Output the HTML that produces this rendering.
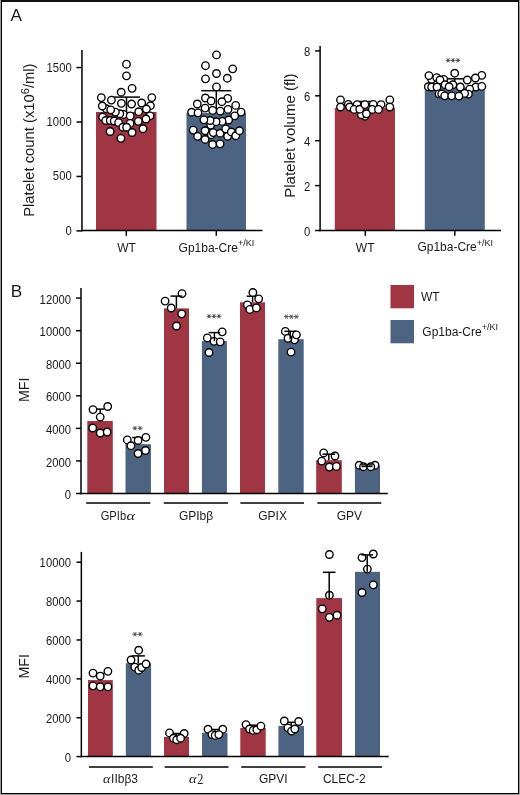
<!DOCTYPE html>
<html><head><meta charset="utf-8"><style>
html,body{margin:0;padding:0;background:#9a9a9a;}
#fig{position:absolute;left:1px;top:0;width:516px;height:791px;border:1px solid #000;border-top:2px solid #111;background:#fff;}
svg{position:absolute;left:0;top:0;will-change:transform;}
text{font-family:"Liberation Sans",sans-serif;fill:#1a1a1a;}
circle{fill:#fff;stroke:#000;stroke-width:1.35;}
</style></head><body>
<div id="fig"></div>
<svg width="520" height="795" viewBox="0 0 520 795">
<rect x="96" y="112" width="60.5" height="118.5" fill="#a03543"/>
<rect x="186.5" y="113" width="59.5" height="117.5" fill="#4d6382"/>
<line x1="126.5" y1="97.1" x2="126.5" y2="112" stroke="#000" stroke-width="1.5"/>
<line x1="113.0" y1="97.1" x2="140.0" y2="97.1" stroke="#000" stroke-width="1.5"/>
<line x1="216.3" y1="90.7" x2="216.3" y2="113" stroke="#000" stroke-width="1.5"/>
<line x1="201.3" y1="90.7" x2="231.3" y2="90.7" stroke="#000" stroke-width="1.5"/>
<circle cx="126.5" cy="64.2" r="3.75"/>
<circle cx="126.5" cy="75.8" r="3.75"/>
<circle cx="132.1" cy="88.3" r="3.75"/>
<circle cx="121.2" cy="92.2" r="3.75"/>
<circle cx="101.3" cy="97.6" r="3.75"/>
<circle cx="111.4" cy="100.1" r="3.75"/>
<circle cx="121.4" cy="103.3" r="3.75"/>
<circle cx="131.6" cy="104.0" r="3.75"/>
<circle cx="141.7" cy="103.0" r="3.75"/>
<circle cx="151.8" cy="97.6" r="3.75"/>
<circle cx="106.3" cy="108.7" r="3.75"/>
<circle cx="102.3" cy="106.0" r="3.75"/>
<circle cx="123.5" cy="114.4" r="3.75"/>
<circle cx="119.8" cy="113.7" r="3.75"/>
<circle cx="115.4" cy="112.1" r="3.75"/>
<circle cx="110.7" cy="109.8" r="3.75"/>
<circle cx="150.4" cy="105.7" r="3.75"/>
<circle cx="146.4" cy="109.0" r="3.75"/>
<circle cx="138.7" cy="111.7" r="3.75"/>
<circle cx="130.2" cy="115.9" r="3.75"/>
<circle cx="150.1" cy="115.8" r="3.75"/>
<circle cx="146.0" cy="119.0" r="3.75"/>
<circle cx="138.3" cy="121.3" r="3.75"/>
<circle cx="130.1" cy="123.4" r="3.75"/>
<circle cx="102.6" cy="117.0" r="3.75"/>
<circle cx="105.7" cy="120.5" r="3.75"/>
<circle cx="110.2" cy="120.5" r="3.75"/>
<circle cx="114.2" cy="121.0" r="3.75"/>
<circle cx="118.6" cy="122.6" r="3.75"/>
<circle cx="122.8" cy="127.2" r="3.75"/>
<circle cx="126.6" cy="127.2" r="3.75"/>
<circle cx="110.1" cy="131.5" r="3.75"/>
<circle cx="132.1" cy="132.5" r="3.75"/>
<circle cx="143.0" cy="128.7" r="3.75"/>
<circle cx="120.9" cy="138.3" r="3.75"/>
<circle cx="216.5" cy="54.9" r="3.75"/>
<circle cx="205.5" cy="65.7" r="3.75"/>
<circle cx="232.7" cy="68.8" r="3.75"/>
<circle cx="216.5" cy="73.5" r="3.75"/>
<circle cx="205.5" cy="78.8" r="3.75"/>
<circle cx="227.3" cy="78.2" r="3.75"/>
<circle cx="216.5" cy="86.9" r="3.75"/>
<circle cx="205.4" cy="98.0" r="3.75"/>
<circle cx="211.1" cy="101.0" r="3.75"/>
<circle cx="197.3" cy="104.0" r="3.75"/>
<circle cx="205.1" cy="108.1" r="3.75"/>
<circle cx="212.7" cy="110.4" r="3.75"/>
<circle cx="191.6" cy="112.2" r="3.75"/>
<circle cx="198.0" cy="112.8" r="3.75"/>
<circle cx="227.7" cy="98.3" r="3.75"/>
<circle cx="221.9" cy="101.7" r="3.75"/>
<circle cx="235.7" cy="105.4" r="3.75"/>
<circle cx="228.0" cy="109.4" r="3.75"/>
<circle cx="220.3" cy="111.1" r="3.75"/>
<circle cx="241.1" cy="112.1" r="3.75"/>
<circle cx="234.7" cy="115.8" r="3.75"/>
<circle cx="210.7" cy="125.1" r="3.75"/>
<circle cx="228.6" cy="120.0" r="3.75"/>
<circle cx="222.1" cy="121.4" r="3.75"/>
<circle cx="216.1" cy="121.7" r="3.75"/>
<circle cx="210.1" cy="120.5" r="3.75"/>
<circle cx="203.9" cy="119.8" r="3.75"/>
<circle cx="193.2" cy="130.1" r="3.75"/>
<circle cx="197.6" cy="136.3" r="3.75"/>
<circle cx="205.1" cy="130.7" r="3.75"/>
<circle cx="205.1" cy="139.45" r="3.75"/>
<circle cx="211.3" cy="134.7" r="3.75"/>
<circle cx="213.2" cy="132.6" r="3.75"/>
<circle cx="220.1" cy="133.2" r="3.75"/>
<circle cx="225.7" cy="128.8" r="3.75"/>
<circle cx="227.6" cy="136.3" r="3.75"/>
<circle cx="231.3" cy="131.95" r="3.75"/>
<circle cx="235.7" cy="135.7" r="3.75"/>
<circle cx="239.45" cy="130.7" r="3.75"/>
<circle cx="212.6" cy="144.45" r="3.75"/>
<circle cx="220.1" cy="143.8" r="3.75"/>
<line x1="81.95" y1="50" x2="81.95" y2="231.2" stroke="#000" stroke-width="1.5"/>
<line x1="81.2" y1="230.5" x2="262.5" y2="230.5" stroke="#000" stroke-width="1.5"/>
<line x1="76.5" y1="230.9" x2="81.95" y2="230.9" stroke="#000" stroke-width="1.5"/>
<text transform="translate(71.7,234.9) scale(0.925,1)" font-size="12.2" text-anchor="end">0</text>
<line x1="76.5" y1="176.45" x2="81.95" y2="176.45" stroke="#000" stroke-width="1.5"/>
<text transform="translate(71.7,180.45) scale(0.925,1)" font-size="12.2" text-anchor="end">500</text>
<line x1="76.5" y1="122.0" x2="81.95" y2="122.0" stroke="#000" stroke-width="1.5"/>
<text transform="translate(71.7,126.0) scale(0.925,1)" font-size="12.2" text-anchor="end">1000</text>
<line x1="76.5" y1="67.55" x2="81.95" y2="67.55" stroke="#000" stroke-width="1.5"/>
<text transform="translate(71.7,71.55) scale(0.925,1)" font-size="12.2" text-anchor="end">1500</text>
<line x1="126.3" y1="230.5" x2="126.3" y2="235.8" stroke="#000" stroke-width="1.5"/>
<line x1="216.3" y1="230.5" x2="216.3" y2="235.8" stroke="#000" stroke-width="1.5"/>
<text x="126.5" y="251.5" font-size="12" text-anchor="middle" >WT</text>
<text x="178.6" y="251.5" font-size="12">Gp1ba-Cre<tspan font-size="9" dy="-5.4">+/KI</tspan></text>
<text transform="translate(34.1,216.8) rotate(-90)" font-size="14.8">Platelet count (x10<tspan font-size="11" dy="-5">6</tspan><tspan dy="5">/ml)</tspan></text>
<rect x="334.8" y="108" width="60.2" height="122.5" fill="#a03543"/>
<rect x="424.8" y="87.5" width="60.0" height="143.0" fill="#4d6382"/>
<line x1="365.3" y1="101.5" x2="365.3" y2="108" stroke="#000" stroke-width="1.5"/>
<line x1="357.3" y1="101.5" x2="373.3" y2="101.5" stroke="#000" stroke-width="1.5"/>
<line x1="454.7" y1="78.8" x2="454.7" y2="87.5" stroke="#000" stroke-width="1.5"/>
<line x1="446.09999999999997" y1="78.8" x2="463.3" y2="78.8" stroke="#000" stroke-width="1.5"/>
<circle cx="365.0" cy="116.2" r="3.75"/>
<circle cx="361.4" cy="114.7" r="3.75"/>
<circle cx="340.5" cy="99.9" r="3.75"/>
<circle cx="340.5" cy="107.0" r="3.75"/>
<circle cx="348.3" cy="104.3" r="3.75"/>
<circle cx="349.7" cy="107.0" r="3.75"/>
<circle cx="357.1" cy="104.6" r="3.75"/>
<circle cx="354.1" cy="109.4" r="3.75"/>
<circle cx="359.7" cy="109.2" r="3.75"/>
<circle cx="364.9" cy="104.6" r="3.75"/>
<circle cx="373.3" cy="104.3" r="3.75"/>
<circle cx="381.1" cy="104.6" r="3.75"/>
<circle cx="389.8" cy="99.9" r="3.75"/>
<circle cx="389.8" cy="107.0" r="3.75"/>
<circle cx="372.3" cy="109.4" r="3.75"/>
<circle cx="378.5" cy="109.4" r="3.75"/>
<circle cx="366.4" cy="113.8" r="3.75"/>
<circle cx="452.9" cy="84.7" r="3.75"/>
<circle cx="443.7" cy="79.3" r="3.75"/>
<circle cx="431.6" cy="79.3" r="3.75"/>
<circle cx="428.9" cy="75.6" r="3.75"/>
<circle cx="436.7" cy="77.6" r="3.75"/>
<circle cx="440.0" cy="80.0" r="3.75"/>
<circle cx="454.7" cy="73.2" r="3.75"/>
<circle cx="428.3" cy="86.7" r="3.75"/>
<circle cx="431.6" cy="87.0" r="3.75"/>
<circle cx="437.0" cy="87.0" r="3.75"/>
<circle cx="445.1" cy="84.7" r="3.75"/>
<circle cx="449.1" cy="86.7" r="3.75"/>
<circle cx="481.8" cy="75.3" r="3.75"/>
<circle cx="475.4" cy="78.0" r="3.75"/>
<circle cx="467.3" cy="80.0" r="3.75"/>
<circle cx="460.3" cy="87.0" r="3.75"/>
<circle cx="475.8" cy="87.0" r="3.75"/>
<circle cx="481.8" cy="86.4" r="3.75"/>
<circle cx="469.7" cy="89.1" r="3.75"/>
<circle cx="468.4" cy="94.1" r="3.75"/>
<circle cx="464.6" cy="93.4" r="3.75"/>
<circle cx="439.0" cy="93.8" r="3.75"/>
<circle cx="441.7" cy="93.8" r="3.75"/>
<circle cx="444.7" cy="95.8" r="3.75"/>
<circle cx="451.7" cy="95.8" r="3.75"/>
<circle cx="458.9" cy="96.1" r="3.75"/>
<line x1="320.1" y1="46" x2="320.1" y2="231.2" stroke="#000" stroke-width="1.5"/>
<line x1="319.35" y1="230.5" x2="501" y2="230.5" stroke="#000" stroke-width="1.5"/>
<line x1="315.1" y1="230.5" x2="320.1" y2="230.5" stroke="#000" stroke-width="1.5"/>
<text transform="translate(310.3,235.8) scale(0.925,1)" font-size="12.2" text-anchor="end">0</text>
<line x1="315.1" y1="185.6" x2="320.1" y2="185.6" stroke="#000" stroke-width="1.5"/>
<text transform="translate(310.3,190.9) scale(0.925,1)" font-size="12.2" text-anchor="end">2</text>
<line x1="315.1" y1="140.7" x2="320.1" y2="140.7" stroke="#000" stroke-width="1.5"/>
<text transform="translate(310.3,146.0) scale(0.925,1)" font-size="12.2" text-anchor="end">4</text>
<line x1="315.1" y1="95.8" x2="320.1" y2="95.8" stroke="#000" stroke-width="1.5"/>
<text transform="translate(310.3,101.1) scale(0.925,1)" font-size="12.2" text-anchor="end">6</text>
<line x1="315.1" y1="50.9" x2="320.1" y2="50.9" stroke="#000" stroke-width="1.5"/>
<text transform="translate(310.3,56.2) scale(0.925,1)" font-size="12.2" text-anchor="end">8</text>
<line x1="365.3" y1="230.5" x2="365.3" y2="235.8" stroke="#000" stroke-width="1.5"/>
<line x1="454.8" y1="230.5" x2="454.8" y2="235.8" stroke="#000" stroke-width="1.5"/>
<text x="365.2" y="251.5" font-size="12" text-anchor="middle" >WT</text>
<text x="417.4" y="251.3" font-size="12">Gp1ba-Cre<tspan font-size="9" dy="-5.4">+/KI</tspan></text>
<text transform="translate(294.9,197.8) rotate(-90)" font-size="15">Platelet volume (fl)</text>
<line x1="445.7" y1="60.4" x2="450.5" y2="60.4" stroke="#484848" stroke-width="0.95"/>
<line x1="446.9" y1="58.32" x2="449.3" y2="62.48" stroke="#484848" stroke-width="0.95"/>
<line x1="449.3" y1="58.32" x2="446.9" y2="62.48" stroke="#484848" stroke-width="0.95"/>
<line x1="450.6" y1="60.4" x2="455.4" y2="60.4" stroke="#484848" stroke-width="0.95"/>
<line x1="451.8" y1="58.32" x2="454.2" y2="62.48" stroke="#484848" stroke-width="0.95"/>
<line x1="454.2" y1="58.32" x2="451.8" y2="62.48" stroke="#484848" stroke-width="0.95"/>
<line x1="455.5" y1="60.4" x2="460.3" y2="60.4" stroke="#484848" stroke-width="0.95"/>
<line x1="456.7" y1="58.32" x2="459.1" y2="62.48" stroke="#484848" stroke-width="0.95"/>
<line x1="459.1" y1="58.32" x2="456.7" y2="62.48" stroke="#484848" stroke-width="0.95"/>
<rect x="87.3" y="421" width="25.5" height="72.5" fill="#a03543"/>
<rect x="125.5" y="444.2" width="25.4" height="49.3" fill="#4d6382"/>
<rect x="164" y="308.4" width="25" height="185.1" fill="#a03543"/>
<rect x="201.9" y="341.1" width="25.0" height="152.4" fill="#4d6382"/>
<rect x="240" y="302.3" width="25" height="191.2" fill="#a03543"/>
<rect x="278.3" y="339.2" width="25.4" height="154.3" fill="#4d6382"/>
<rect x="316.2" y="460.2" width="25.6" height="33.3" fill="#a03543"/>
<rect x="354.9" y="466.2" width="25.1" height="27.3" fill="#4d6382"/>
<line x1="100.2" y1="409.1" x2="100.2" y2="421" stroke="#000" stroke-width="1.5"/>
<line x1="96.4" y1="409.1" x2="104.0" y2="409.1" stroke="#000" stroke-width="1.5"/>
<line x1="138.2" y1="437.5" x2="138.2" y2="444.2" stroke="#000" stroke-width="1.5"/>
<line x1="132.2" y1="437.5" x2="144.2" y2="437.5" stroke="#000" stroke-width="1.5"/>
<line x1="252.6" y1="296.2" x2="252.6" y2="302.3" stroke="#000" stroke-width="1.5"/>
<line x1="246.6" y1="296.2" x2="258.6" y2="296.2" stroke="#000" stroke-width="1.5"/>
<circle cx="93.0" cy="409.6" r="3.75"/>
<circle cx="107.7" cy="406.5" r="3.75"/>
<circle cx="100.2" cy="417.1" r="3.75"/>
<circle cx="92.7" cy="428.0" r="3.75"/>
<circle cx="100.2" cy="433.0" r="3.75"/>
<circle cx="107.2" cy="432.0" r="3.75"/>
<circle cx="127.3" cy="439.9" r="3.75"/>
<circle cx="138.1" cy="440.5" r="3.75"/>
<circle cx="145.9" cy="437.3" r="3.75"/>
<circle cx="130.9" cy="445.7" r="3.75"/>
<circle cx="138.1" cy="453.5" r="3.75"/>
<circle cx="145.5" cy="450.5" r="3.75"/>
<circle cx="182.0" cy="293.6" r="3.75"/>
<circle cx="165.1" cy="301.1" r="3.75"/>
<circle cx="171.2" cy="308.0" r="3.75"/>
<circle cx="181.7" cy="313.8" r="3.75"/>
<circle cx="176.5" cy="326.0" r="3.75"/>
<circle cx="222.2" cy="331.8" r="3.75"/>
<circle cx="207.3" cy="337.9" r="3.75"/>
<circle cx="214.0" cy="341.3" r="3.75"/>
<circle cx="220.2" cy="341.8" r="3.75"/>
<circle cx="209.0" cy="352.5" r="3.75"/>
<circle cx="252.9" cy="292.5" r="3.75"/>
<circle cx="258.7" cy="298.8" r="3.75"/>
<circle cx="247.4" cy="304.8" r="3.75"/>
<circle cx="249.8" cy="309.4" r="3.75"/>
<circle cx="256.4" cy="307.9" r="3.75"/>
<circle cx="285.3" cy="331.4" r="3.75"/>
<circle cx="294.5" cy="339.8" r="3.75"/>
<circle cx="288.0" cy="338.3" r="3.75"/>
<circle cx="296.4" cy="334.8" r="3.75"/>
<circle cx="291.0" cy="352.1" r="3.75"/>
<circle cx="323.7" cy="452.9" r="3.75"/>
<circle cx="335.0" cy="456.0" r="3.75"/>
<circle cx="321.7" cy="461.1" r="3.75"/>
<circle cx="329.4" cy="467.0" r="3.75"/>
<circle cx="336.4" cy="466.4" r="3.75"/>
<circle cx="359.2" cy="465.2" r="3.75"/>
<circle cx="375.1" cy="465.2" r="3.75"/>
<circle cx="363.5" cy="466.7" r="3.75"/>
<circle cx="370.75" cy="466.7" r="3.75"/>
<line x1="176.4" y1="296.1" x2="176.4" y2="308.4" stroke="#000" stroke-width="1.5"/>
<line x1="170.5" y1="296.1" x2="182.3" y2="296.1" stroke="#000" stroke-width="1.5"/>
<line x1="214.4" y1="332.6" x2="214.4" y2="341.1" stroke="#000" stroke-width="1.5"/>
<line x1="208.6" y1="332.6" x2="220.20000000000002" y2="332.6" stroke="#000" stroke-width="1.5"/>
<line x1="290.2" y1="331.3" x2="290.2" y2="339.2" stroke="#000" stroke-width="1.5"/>
<line x1="284.4" y1="331.3" x2="296.0" y2="331.3" stroke="#000" stroke-width="1.5"/>
<line x1="328.8" y1="454.2" x2="328.8" y2="460.2" stroke="#000" stroke-width="1.5"/>
<line x1="322.5" y1="454.2" x2="335.1" y2="454.2" stroke="#000" stroke-width="1.5"/>
<line x1="367.0" y1="464.9" x2="367.0" y2="466.6" stroke="#000" stroke-width="1.5"/>
<line x1="361.2" y1="464.9" x2="372.8" y2="464.9" stroke="#000" stroke-width="1.5"/>
<line x1="361.5" y1="466.6" x2="372.5" y2="466.6" stroke="#000" stroke-width="1.2"/>
<line x1="81.0" y1="288" x2="81.0" y2="494.2" stroke="#000" stroke-width="1.5"/>
<line x1="80.25" y1="493.5" x2="387.8" y2="493.5" stroke="#000" stroke-width="1.5"/>
<line x1="76.1" y1="493.5" x2="81.0" y2="493.5" stroke="#000" stroke-width="1.5"/>
<text transform="translate(71.0,499.15) scale(0.925,1)" font-size="12.2" text-anchor="end">0</text>
<line x1="76.1" y1="460.93" x2="81.0" y2="460.93" stroke="#000" stroke-width="1.5"/>
<text transform="translate(71.0,466.58) scale(0.925,1)" font-size="12.2" text-anchor="end">2000</text>
<line x1="76.1" y1="428.37" x2="81.0" y2="428.37" stroke="#000" stroke-width="1.5"/>
<text transform="translate(71.0,434.02) scale(0.925,1)" font-size="12.2" text-anchor="end">4000</text>
<line x1="76.1" y1="395.8" x2="81.0" y2="395.8" stroke="#000" stroke-width="1.5"/>
<text transform="translate(71.0,401.45) scale(0.925,1)" font-size="12.2" text-anchor="end">6000</text>
<line x1="76.1" y1="363.24" x2="81.0" y2="363.24" stroke="#000" stroke-width="1.5"/>
<text transform="translate(71.0,368.89) scale(0.925,1)" font-size="12.2" text-anchor="end">8000</text>
<line x1="76.1" y1="330.67" x2="81.0" y2="330.67" stroke="#000" stroke-width="1.5"/>
<text transform="translate(71.0,336.32) scale(0.925,1)" font-size="12.2" text-anchor="end">10000</text>
<line x1="76.1" y1="298.1" x2="81.0" y2="298.1" stroke="#000" stroke-width="1.5"/>
<text transform="translate(71.0,303.75) scale(0.925,1)" font-size="12.2" text-anchor="end">12000</text>
<line x1="86.2" y1="503" x2="150.3" y2="503" stroke="#000" stroke-width="1.5"/>
<line x1="163.8" y1="503" x2="227.9" y2="503" stroke="#000" stroke-width="1.5"/>
<line x1="240.4" y1="503" x2="304" y2="503" stroke="#000" stroke-width="1.5"/>
<line x1="317.4" y1="503" x2="381.3" y2="503" stroke="#000" stroke-width="1.5"/>
<text transform="translate(100.7,519.8) scale(0.93,1)" font-size="12">GPIb</text>
<text transform="translate(126.4,519.8) scale(1.2,1)" style="font-family:&quot;Liberation Serif&quot;;font-style:italic" font-size="13.5">&#945;</text>
<text x="196" y="519.8" font-size="12" text-anchor="middle" >GPIb&#946;</text>
<text x="272.6" y="519.8" font-size="12" text-anchor="middle" >GPIX</text>
<text x="349.4" y="519.8" font-size="12" text-anchor="middle" >GPV</text>
<text transform="translate(28.8,402) rotate(-90)" font-size="14.2">MFI</text>
<line x1="132.5" y1="428.2" x2="137.3" y2="428.2" stroke="#484848" stroke-width="0.95"/>
<line x1="133.7" y1="426.12" x2="136.1" y2="430.28" stroke="#484848" stroke-width="0.95"/>
<line x1="136.1" y1="426.12" x2="133.7" y2="430.28" stroke="#484848" stroke-width="0.95"/>
<line x1="137.7" y1="428.2" x2="142.5" y2="428.2" stroke="#484848" stroke-width="0.95"/>
<line x1="138.9" y1="426.12" x2="141.3" y2="430.28" stroke="#484848" stroke-width="0.95"/>
<line x1="141.3" y1="426.12" x2="138.9" y2="430.28" stroke="#484848" stroke-width="0.95"/>
<line x1="206.6" y1="316.3" x2="211.4" y2="316.3" stroke="#484848" stroke-width="0.95"/>
<line x1="207.8" y1="314.22" x2="210.2" y2="318.38" stroke="#484848" stroke-width="0.95"/>
<line x1="210.2" y1="314.22" x2="207.8" y2="318.38" stroke="#484848" stroke-width="0.95"/>
<line x1="211.6" y1="316.3" x2="216.4" y2="316.3" stroke="#484848" stroke-width="0.95"/>
<line x1="212.8" y1="314.22" x2="215.2" y2="318.38" stroke="#484848" stroke-width="0.95"/>
<line x1="215.2" y1="314.22" x2="212.8" y2="318.38" stroke="#484848" stroke-width="0.95"/>
<line x1="216.6" y1="316.3" x2="221.4" y2="316.3" stroke="#484848" stroke-width="0.95"/>
<line x1="217.8" y1="314.22" x2="220.2" y2="318.38" stroke="#484848" stroke-width="0.95"/>
<line x1="220.2" y1="314.22" x2="217.8" y2="318.38" stroke="#484848" stroke-width="0.95"/>
<line x1="284.0" y1="316.7" x2="288.8" y2="316.7" stroke="#484848" stroke-width="0.95"/>
<line x1="285.2" y1="314.62" x2="287.6" y2="318.78" stroke="#484848" stroke-width="0.95"/>
<line x1="287.6" y1="314.62" x2="285.2" y2="318.78" stroke="#484848" stroke-width="0.95"/>
<line x1="289.0" y1="316.7" x2="293.8" y2="316.7" stroke="#484848" stroke-width="0.95"/>
<line x1="290.2" y1="314.62" x2="292.6" y2="318.78" stroke="#484848" stroke-width="0.95"/>
<line x1="292.6" y1="314.62" x2="290.2" y2="318.78" stroke="#484848" stroke-width="0.95"/>
<line x1="294.0" y1="316.7" x2="298.8" y2="316.7" stroke="#484848" stroke-width="0.95"/>
<line x1="295.2" y1="314.62" x2="297.6" y2="318.78" stroke="#484848" stroke-width="0.95"/>
<line x1="297.6" y1="314.62" x2="295.2" y2="318.78" stroke="#484848" stroke-width="0.95"/>
<rect x="390.5" y="285" width="23.5" height="23.3" fill="#a03543"/>
<rect x="390.5" y="320" width="23.5" height="23.3" fill="#4d6382"/>
<text x="421" y="301.4" font-size="12">WT</text>
<text x="422.3" y="335.8" font-size="12">Gp1ba-Cre<tspan font-size="9" dy="-5.4">+/KI</tspan></text>
<rect x="88" y="680.1" width="24.8" height="76.5" fill="#a03543"/>
<rect x="125.8" y="663.2" width="25.3" height="93.4" fill="#4d6382"/>
<rect x="164" y="737" width="25" height="19.6" fill="#a03543"/>
<rect x="202" y="732.7" width="25.5" height="23.9" fill="#4d6382"/>
<rect x="240.3" y="728" width="25.4" height="28.6" fill="#a03543"/>
<rect x="278.4" y="725.9" width="25.6" height="30.7" fill="#4d6382"/>
<rect x="316.3" y="598.1" width="25.7" height="158.5" fill="#a03543"/>
<rect x="355" y="571.8" width="25" height="184.8" fill="#4d6382"/>
<line x1="100.3" y1="673.5" x2="100.3" y2="680.1" stroke="#000" stroke-width="1.5"/>
<line x1="96.3" y1="673.5" x2="104.3" y2="673.5" stroke="#000" stroke-width="1.5"/>
<line x1="138.3" y1="655.9" x2="138.3" y2="663.2" stroke="#000" stroke-width="1.5"/>
<line x1="131.70000000000002" y1="655.9" x2="144.9" y2="655.9" stroke="#000" stroke-width="1.5"/>
<line x1="176.5" y1="733.5" x2="176.5" y2="737" stroke="#000" stroke-width="1.5"/>
<line x1="171.5" y1="733.5" x2="181.5" y2="733.5" stroke="#000" stroke-width="1.5"/>
<line x1="215" y1="729.5" x2="215" y2="732.7" stroke="#000" stroke-width="1.5"/>
<line x1="209" y1="729.5" x2="221" y2="729.5" stroke="#000" stroke-width="1.5"/>
<line x1="253" y1="725.2" x2="253" y2="728" stroke="#000" stroke-width="1.5"/>
<line x1="248" y1="725.2" x2="258" y2="725.2" stroke="#000" stroke-width="1.5"/>
<line x1="291.3" y1="722.3" x2="291.3" y2="725.9" stroke="#000" stroke-width="1.5"/>
<line x1="285.3" y1="722.3" x2="297.3" y2="722.3" stroke="#000" stroke-width="1.5"/>
<circle cx="93.0" cy="673.1" r="3.75"/>
<circle cx="100.2" cy="676.1" r="3.75"/>
<circle cx="107.9" cy="671.3" r="3.75"/>
<circle cx="93.0" cy="685.8" r="3.75"/>
<circle cx="100.2" cy="686.8" r="3.75"/>
<circle cx="107.9" cy="686.8" r="3.75"/>
<circle cx="138.7" cy="650.2" r="3.75"/>
<circle cx="131.0" cy="660.0" r="3.75"/>
<circle cx="134.8" cy="667.1" r="3.75"/>
<circle cx="138.7" cy="670.2" r="3.75"/>
<circle cx="141.7" cy="667.5" r="3.75"/>
<circle cx="146.0" cy="664.0" r="3.75"/>
<circle cx="169.5" cy="732.9" r="3.75"/>
<circle cx="184.2" cy="733.5" r="3.75"/>
<circle cx="173.4" cy="738.2" r="3.75"/>
<circle cx="176.7" cy="739.7" r="3.75"/>
<circle cx="180.6" cy="738.2" r="3.75"/>
<circle cx="208.0" cy="729.2" r="3.75"/>
<circle cx="222.8" cy="729.2" r="3.75"/>
<circle cx="211.9" cy="734.6" r="3.75"/>
<circle cx="215.2" cy="735.4" r="3.75"/>
<circle cx="218.8" cy="734.6" r="3.75"/>
<circle cx="246.0" cy="724.6" r="3.75"/>
<circle cx="249.6" cy="729.0" r="3.75"/>
<circle cx="253.2" cy="730.4" r="3.75"/>
<circle cx="256.8" cy="729.7" r="3.75"/>
<circle cx="260.9" cy="726.1" r="3.75"/>
<circle cx="284.3" cy="721.0" r="3.75"/>
<circle cx="298.7" cy="721.5" r="3.75"/>
<circle cx="287.9" cy="727.8" r="3.75"/>
<circle cx="291.5" cy="731.1" r="3.75"/>
<circle cx="294.8" cy="729.0" r="3.75"/>
<circle cx="329.4" cy="554.5" r="3.75"/>
<circle cx="329.4" cy="595.2" r="3.75"/>
<circle cx="322.3" cy="608.8" r="3.75"/>
<circle cx="329.4" cy="617.3" r="3.75"/>
<circle cx="337.0" cy="615.2" r="3.75"/>
<circle cx="362.0" cy="557.6" r="3.75"/>
<circle cx="373.3" cy="554.0" r="3.75"/>
<circle cx="367.4" cy="569.1" r="3.75"/>
<circle cx="373.3" cy="584.8" r="3.75"/>
<circle cx="362.0" cy="592.5" r="3.75"/>
<line x1="329.2" y1="572.3" x2="329.2" y2="598.1" stroke="#000" stroke-width="1.5"/>
<line x1="322.9" y1="572.3" x2="335.5" y2="572.3" stroke="#000" stroke-width="1.5"/>
<line x1="367.2" y1="554.9" x2="367.2" y2="571.8" stroke="#000" stroke-width="1.5"/>
<line x1="361.4" y1="554.9" x2="373.0" y2="554.9" stroke="#000" stroke-width="1.5"/>
<line x1="81.35" y1="551.9" x2="81.35" y2="757.3" stroke="#000" stroke-width="1.5"/>
<line x1="80.6" y1="756.6" x2="388.7" y2="756.6" stroke="#000" stroke-width="1.5"/>
<line x1="76.5" y1="756.6" x2="81.35" y2="756.6" stroke="#000" stroke-width="1.5"/>
<text transform="translate(71.0,761.8) scale(0.925,1)" font-size="12.2" text-anchor="end">0</text>
<line x1="76.5" y1="717.72" x2="81.35" y2="717.72" stroke="#000" stroke-width="1.5"/>
<text transform="translate(71.0,722.92) scale(0.925,1)" font-size="12.2" text-anchor="end">2000</text>
<line x1="76.5" y1="678.84" x2="81.35" y2="678.84" stroke="#000" stroke-width="1.5"/>
<text transform="translate(71.0,684.04) scale(0.925,1)" font-size="12.2" text-anchor="end">4000</text>
<line x1="76.5" y1="639.96" x2="81.35" y2="639.96" stroke="#000" stroke-width="1.5"/>
<text transform="translate(71.0,645.16) scale(0.925,1)" font-size="12.2" text-anchor="end">6000</text>
<line x1="76.5" y1="601.08" x2="81.35" y2="601.08" stroke="#000" stroke-width="1.5"/>
<text transform="translate(71.0,606.28) scale(0.925,1)" font-size="12.2" text-anchor="end">8000</text>
<line x1="76.5" y1="562.2" x2="81.35" y2="562.2" stroke="#000" stroke-width="1.5"/>
<text transform="translate(71.0,567.4) scale(0.925,1)" font-size="12.2" text-anchor="end">10000</text>
<line x1="88.9" y1="767" x2="152.8" y2="767" stroke="#000" stroke-width="1.5"/>
<line x1="164.7" y1="767" x2="228.5" y2="767" stroke="#000" stroke-width="1.5"/>
<line x1="241.2" y1="767" x2="305.4" y2="767" stroke="#000" stroke-width="1.5"/>
<line x1="318.2" y1="767" x2="382.1" y2="767" stroke="#000" stroke-width="1.5"/>
<text transform="translate(102.9,782.5) scale(1.05,1)" style="font-family:&quot;Liberation Serif&quot;;font-style:italic" font-size="13.5">&#945;</text>
<text x="111.1" y="782.6" font-size="12" text-anchor="start" >IIb&#946;3</text>
<text transform="translate(188.9,783.4) scale(1.07,1)" style="font-family:&quot;Liberation Serif&quot;;font-style:italic" font-size="13.5">&#945;</text>
<text transform="translate(197.3,783.9) scale(0.87,1)" style="font-family:&quot;Liberation Serif&quot;" font-size="14">2</text>
<text x="273.3" y="782.6" font-size="12" text-anchor="middle" >GPVI</text>
<text x="344.3" y="782.6" font-size="12" text-anchor="middle" >CLEC-2</text>
<text transform="translate(28.8,678.5) rotate(-90)" font-size="14.2">MFI</text>
<line x1="132.5" y1="634.2" x2="137.3" y2="634.2" stroke="#484848" stroke-width="0.95"/>
<line x1="133.7" y1="632.12" x2="136.1" y2="636.28" stroke="#484848" stroke-width="0.95"/>
<line x1="136.1" y1="632.12" x2="133.7" y2="636.28" stroke="#484848" stroke-width="0.95"/>
<line x1="137.7" y1="634.2" x2="142.5" y2="634.2" stroke="#484848" stroke-width="0.95"/>
<line x1="138.9" y1="632.12" x2="141.3" y2="636.28" stroke="#484848" stroke-width="0.95"/>
<line x1="141.3" y1="632.12" x2="138.9" y2="636.28" stroke="#484848" stroke-width="0.95"/>
<text x="10.6" y="21" font-size="17.2">A</text>
<text x="10.8" y="296.6" font-size="17.2">B</text>
</svg>
</body></html>
